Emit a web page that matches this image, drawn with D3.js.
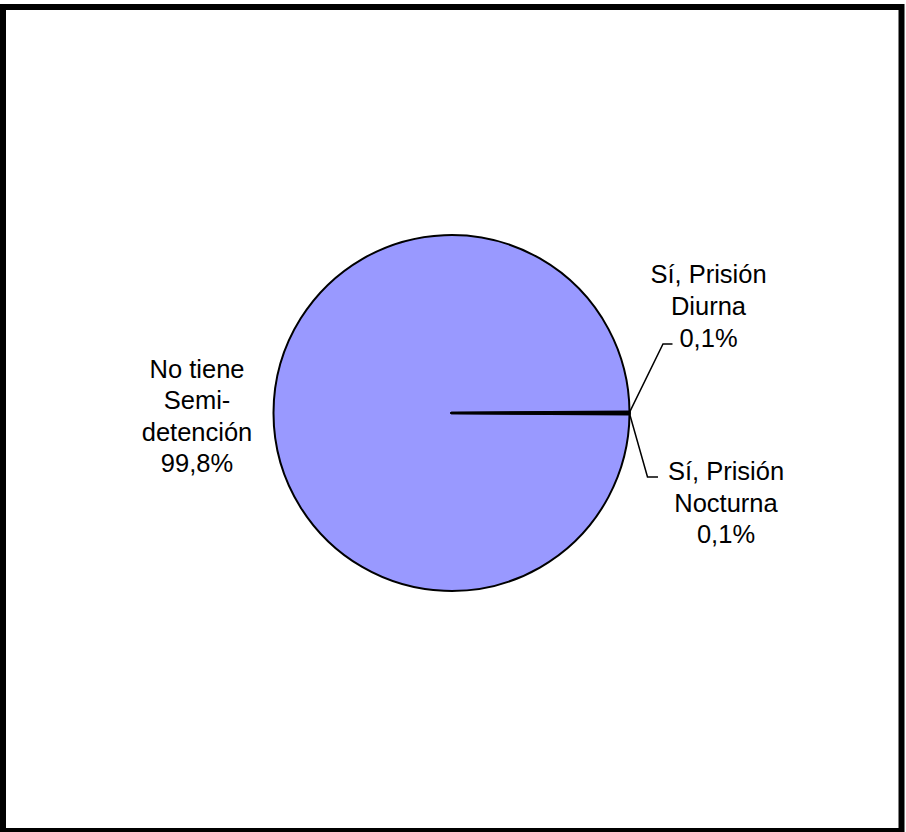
<!DOCTYPE html>
<html>
<head>
<meta charset="utf-8">
<script src="https://cdn.jsdelivr.net/npm/d3@7"></script>
<style>
  html, body { margin: 0; padding: 0; background: #fff; }
  svg { display: block; }
</style>
</head>
<body>
<div id="chart"></div>
<script>
// ---- data ----
const categories = ["No tiene Semi-detención", "Sí, Prisión Diurna", "Sí, Prisión Nocturna"];
const labelLines = [["No tiene", "Semi-", "detención"], ["Sí, Prisión", "Diurna"], ["Sí, Prisión", "Nocturna"]];
const values = [99.8, 0.1, 0.1];
const percentLabels = ["99,8%", "0,1%", "0,1%"];

// ---- layout ----
const W = 906, H = 832;
const cx = 451.5, cy = 413, R = 178;
const fontSize = 25.5, lineH = 31.6;

const svg = d3.select("#chart").append("svg")
  .attr("width", W).attr("height", H);

svg.append("rect").attr("width", W).attr("height", H).attr("fill", "#fff");

// outer frame
svg.append("rect")
  .attr("x", 3).attr("y", 7)
  .attr("width", 898.5).attr("height", 824)
  .attr("fill", "none").attr("stroke", "#000").attr("stroke-width", 6);

const data = categories.map((c, i) => ({ cat: c, value: values[i], lines: labelLines[i], pct: percentLabels[i] }));
const total = d3.sum(values);
// rotate so that the two small slices meet at 3 o'clock
const start = Math.PI / 2 + 2 * Math.PI * values[2] / total;
const pie = d3.pie().value(d => d.value).sort(null)
  .startAngle(start).endAngle(start + 2 * Math.PI);
const arcs = pie(data);

const arc = d3.arc().innerRadius(0).outerRadius(R);
const g = svg.append("g").attr("transform", `translate(${cx},${cy})`);

g.selectAll("path.slice").data(arcs).enter().append("path")
  .attr("class", "slice")
  .attr("d", arc)
  .attr("fill", "#9999FF")
  .attr("stroke", "#000")
  .attr("stroke-width", (d, i) => i === 0 ? 2 : 2.6)
  .attr("stroke-linejoin", "round");

// label placement (relative to pie center)
const labelPos = [
  { x: -254.5, y0: -35.5, leader: null },
  { x: 257, y0: -129.7, leader: [[0, 0], [33.5, -68.5], [43, -68.5]] },
  { x: 274.5, y0: 67, leader: [[0, 0], [18, 63.5], [28.5, 63.5]] }
];

arcs.forEach((a, i) => {
  const p = labelPos[i];
  const mid = (a.startAngle + a.endAngle) / 2;
  const ex = R * Math.sin(mid), ey = -R * Math.cos(mid);
  if (p.leader) {
    g.append("path")
      .attr("d", d3.line()(p.leader.map(q => [ex + q[0], ey + q[1]])))
      .attr("fill", "none").attr("stroke", "#000").attr("stroke-width", 1.5);
  }
  const lines = a.data.lines.concat([a.data.pct]);
  const t = g.append("text")
    .attr("text-anchor", "middle")
    .attr("font-family", "'Liberation Sans', Arial, sans-serif")
    .attr("font-size", fontSize)
    .attr("fill", "#000");
  lines.forEach((ln, k) => {
    t.append("tspan").attr("x", p.x).attr("y", p.y0 + k * lineH).text(ln);
  });
});
</script>
</body>
</html>
